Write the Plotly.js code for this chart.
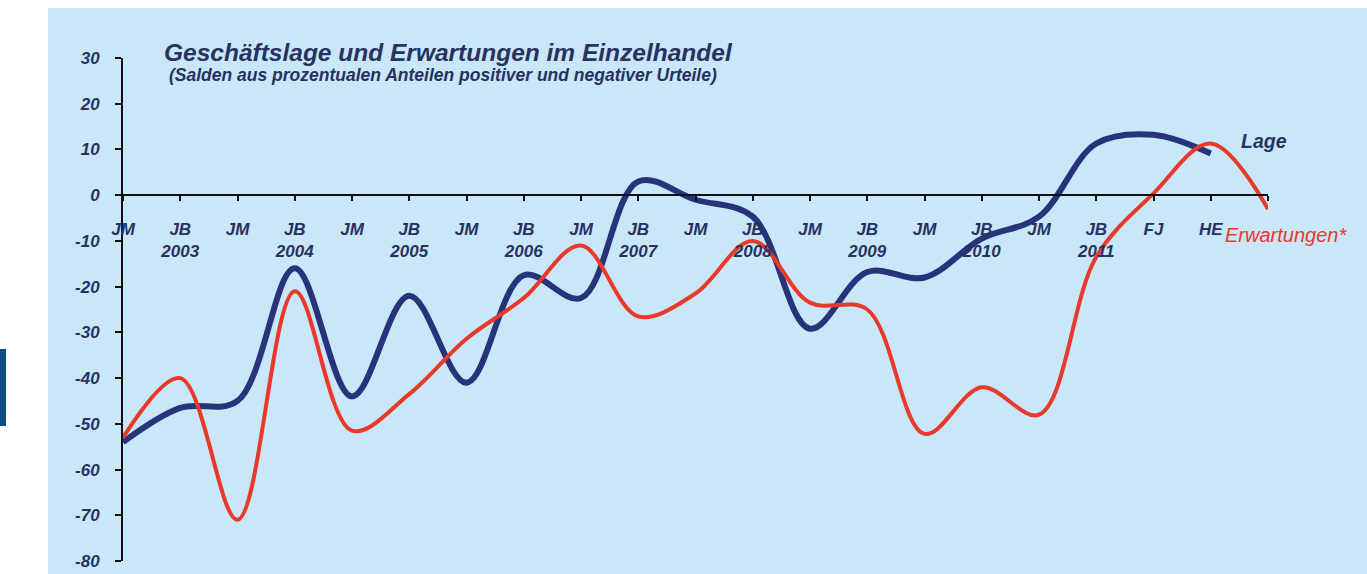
<!DOCTYPE html>
<html>
<head>
<meta charset="utf-8">
<script src="https://cdn.plot.ly/plotly-3.0.1.min.js"></script>
<style>
  html, body { margin:0; padding:0; background:#ffffff; width:1367px; height:574px; overflow:hidden; }
  #panel { position:absolute; left:48px; top:8px; width:1319px; height:566px; background:#c9e7f8; }
  #bar { position:absolute; left:0px; top:349px; width:6px; height:77px; background:#0b4f88; }
  #chart { position:absolute; left:0; top:0; width:1367px; height:574px; }
</style>
</head>
<body>
<div id="panel"></div>
<div id="bar"></div>
<div id="chart"></div>
<script>
const tickLabels = ["JM","JB<br>2003","JM","JB<br>2004","JM","JB<br>2005","JM","JB<br>2006","JM",
  "JB<br>2007","JM","JB<br>2008","JM","JB<br>2009","JM","JB<br>2010","JM","JB<br>2011","FJ","HE",""];
const lage = [-54,-46.5,-45,-16,-44,-22,-41,-17.5,-22.5,3,-1,-4.7,-29.2,-16.8,-18,-9.5,-4.7,11.3,13.2,9.1];
const erwartungen = [-53,-40,-71,-21,-51.5,-43.5,-31.4,-22.5,-11,-26.5,-21.5,-10,-23.5,-25,-52.2,-42,-48,-13.5,0.4,11.3,-3];
const yTicks = [30,20,10,0,-10,-20,-30,-40,-50,-60,-70,-80];

const idx = arr => arr.map((_, i) => i);
const navy = '#27347c';
const textNavy = '#27325f';
const red = '#e8392a';
const font = '"Liberation Sans", Arial, sans-serif';

const data = [
  { x: idx(lage), y: lage, type:'scatter', mode:'lines', name:'Lage',
    line:{ color:navy, width:6, shape:'spline', smoothing:1 } },
  { x: idx(erwartungen), y: erwartungen, type:'scatter', mode:'lines', name:'Erwartungen*',
    line:{ color:red, width:4, shape:'spline', smoothing:1 } }
];

const layout = {
  width:1367, height:574,
  margin:{ l:123, r:99, t:58, b:13 },
  paper_bgcolor:'rgba(0,0,0,0)', plot_bgcolor:'rgba(0,0,0,0)',
  showlegend:false,
  font:{ family:font, color:textNavy },
  title:{ text:'<b><i>Geschäftslage und Erwartungen im Einzelhandel</i></b>',
    xref:'container', yref:'container', x:164/1367, xanchor:'left', y:1-52/574, yanchor:'middle',
    font:{ family:font, size:24.5, color:textNavy } },
  xaxis:{
    range:[0,20], anchor:'free', position:80/110,
    tickmode:'array', tickvals:idx(tickLabels), ticktext:tickLabels.map(t => t ? '<b><i>'+t+'</i></b>' : ''),
    showgrid:false, zeroline:false, showline:true, linecolor:'#111111', linewidth:2,
    ticks:'outside', ticklen:5, tickwidth:2, tickcolor:'#111111',
    ticklabelstandoff:13,
    tickfont:{ family:font, size:17, color:textNavy }, fixedrange:true
  },
  yaxis:{
    range:[-80,30], tickmode:'array', tickvals:yTicks,
    ticktext:yTicks.map(v => '<b><i>'+v+'</i></b>'),
    showgrid:false, zeroline:false, showline:true, linecolor:'#111111', linewidth:2,
    ticks:'outside', ticklen:6, tickwidth:2, tickcolor:'#111111',
    ticklabelstandoff:12,
    tickfont:{ family:font, size:17, color:textNavy }, fixedrange:true
  },
  annotations:[
    { text:'<b><i>(Salden aus prozentualen Anteilen positiver und negativer Urteile)</i></b>',
      xref:'paper', yref:'paper', x:(167-123)/1145, y:(561-75)/503, xanchor:'left', yanchor:'middle',
      showarrow:false, font:{ family:font, size:17.5, color:textNavy } },
    { text:'<b><i>Lage</i></b>', xref:'paper', yref:'paper', x:(1239-123)/1145, y:(561-141)/503,
      xanchor:'left', yanchor:'middle', showarrow:false, font:{ family:font, size:19.5, color:textNavy } },
    { text:'<i>Erwartungen*</i>', xref:'paper', yref:'paper', x:(1223-123)/1145, y:(561-235)/503,
      xanchor:'left', yanchor:'middle', showarrow:false, font:{ family:font, size:20, color:red } }
  ]
};

Plotly.newPlot('chart', data, layout, { displayModeBar:false, staticPlot:true });
</script>
</body>
</html>
